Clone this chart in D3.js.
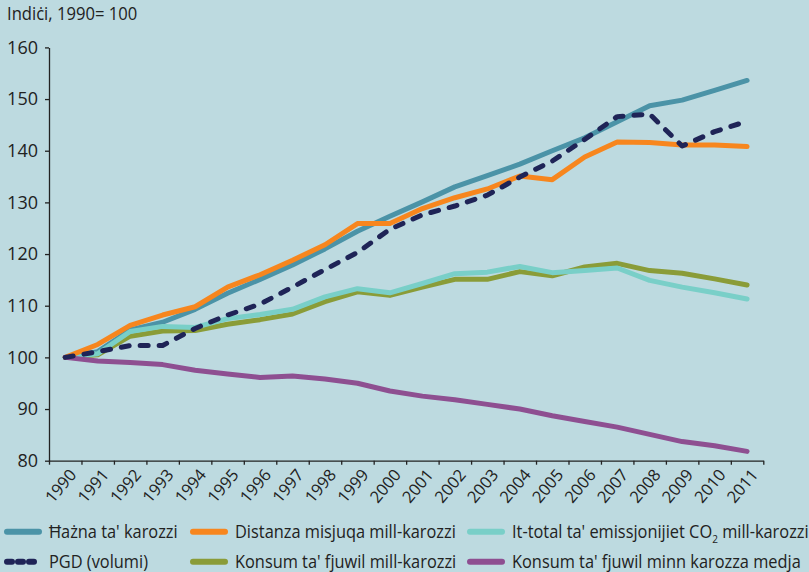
<!DOCTYPE html>
<html>
<head>
<meta charset="utf-8">
<script src="https://cdn.jsdelivr.net/npm/d3@7"></script>
<style>
  html, body { margin: 0; padding: 0; background: #bddae0; }
  svg { display: block; font-family: "Open Sans", sans-serif; }
</style>
</head>
<body>
<script>
'use strict';

// years on the x axis
const years = d3.range(1990, 2012);

// index values, 1990 = 100
const hazna     = [100, 101.1, 105.3, 106.8, 109.3, 112.4, 115.1, 117.9, 121.0, 124.4, 127.3, 130.1, 133.0, 135.2, 137.4, 140.0, 142.5, 145.6, 148.7, 149.8, 151.7, 153.6];
const distanza  = [100, 102.5, 106.2, 108.2, 109.8, 113.6, 116.0, 118.8, 121.8, 125.9, 125.9, 128.8, 130.9, 132.6, 135.1, 134.4, 138.8, 141.7, 141.6, 141.1, 141.1, 140.8];
const co2       = [100, 100.7, 105.0, 106.0, 105.8, 107.5, 108.3, 109.3, 111.7, 113.3, 112.5, 114.3, 116.2, 116.5, 117.6, 116.4, 116.8, 117.3, 114.9, 113.6, 112.5, 111.3];
const pgd       = [100, 101.1, 102.3, 102.3, 105.6, 108.2, 110.3, 113.6, 117.0, 120.3, 124.8, 127.6, 129.3, 131.4, 134.9, 138.0, 142.2, 146.6, 147.1, 140.9, 143.7, 145.7];
const konsum    = [100, 100.5, 104.1, 105.1, 105.2, 106.4, 107.3, 108.4, 110.8, 112.7, 112.0, 113.6, 115.1, 115.1, 116.6, 115.8, 117.5, 118.2, 116.8, 116.3, 115.2, 114.0];
const konsumAvg = [100, 99.3, 99.0, 98.6, 97.5, 96.8, 96.1, 96.4, 95.8, 95.0, 93.5, 92.5, 91.8, 90.9, 90.0, 88.7, 87.6, 86.5, 85.1, 83.7, 82.9, 81.8];

const yTicks = [80, 90, 100, 110, 120, 130, 140, 150, 160];

const series = [
    { name: "Konsum ta' fjuwil mill-karozzi", values: konsum, color: "#8a9c38", dash: null },
    { name: "Ħażna ta' karozzi", values: hazna, color: "#4b93a7", dash: null },
    { name: "It-total ta' emissjonijiet CO2 mill-karozzi", values: co2, color: "#79cfc8", dash: null },
    { name: "Distanza misjuqa mill-karozzi", values: distanza, color: "#f7861e", dash: null },
    { name: "Konsum ta' fjuwil minn karozza medja", values: konsumAvg, color: "#8e4f91", dash: null },
    { name: "PGD (volumi)", values: pgd, color: "#1f2457", dash: "8,11" }
];

const legendRows = [
    ["Ħażna ta' karozzi", "Distanza misjuqa mill-karozzi", "It-total ta' emissjonijiet CO2 mill-karozzi"],
    ["PGD (volumi)", "Konsum ta' fjuwil mill-karozzi", "Konsum ta' fjuwil minn karozza medja"]
];

const W = 809, H = 572;
const svg = d3.select("body").append("svg").attr("width", W).attr("height", H);

const x = d3.scaleLinear().domain([1989.5, 2011.5]).range([49, 763.3]);
const y = d3.scaleLinear().domain([80, 160]).range([460.7, 47.4]);

// title
svg.append("text")
    .attr("transform", "translate(7,20) scale(0.95,1)")
    .attr("font-size", 17.5).attr("fill", "#222")
    .text("Indiċi, 1990= 100");

// y axis
const yAxis = svg.append("g")
    .attr("transform", "translate(49,0)")
    .call(d3.axisLeft(y).tickValues(yTicks).tickSize(4).tickSizeOuter(0).tickPadding(7));
yAxis.selectAll("text").attr("font-size", 18).attr("fill", "#222").attr("font-family", "Open Sans");
yAxis.selectAll("line, path").attr("stroke", "#222").attr("stroke-width", 1.3);

// x axis: ticks on the year boundaries
const xAxis = svg.append("g")
    .attr("transform", "translate(0," + y(80) + ")")
    .call(d3.axisBottom(x).tickValues(d3.range(1989.5, 2012, 1)).tickSize(4).tickSizeOuter(0).tickFormat(""));
xAxis.selectAll("line, path").attr("stroke", "#222").attr("stroke-width", 1.3);

// x labels at the year centres
const xLab = svg.append("g")
    .attr("transform", "translate(0," + y(80) + ")")
    .call(d3.axisBottom(x).tickValues(years).tickSize(0).tickFormat(d3.format("d")));
xLab.select(".domain").remove();
xLab.selectAll("text")
    .attr("y", 0).attr("dy", 0)
    .attr("text-anchor", "end")
    .attr("font-size", 16.5).attr("fill", "#222").attr("font-family", "Open Sans")
    .attr("transform", "translate(11.5,14.5) rotate(-50)");

// lines
const line = d3.line()
    .x((d, i) => x(years[i]))
    .y(d => y(d));

svg.selectAll("path.series")
    .data(series)
    .enter().append("path")
    .attr("class", "series")
    .attr("d", d => line(d.values))
    .attr("fill", "none")
    .attr("stroke", d => d.color)
    .attr("stroke-width", 5)
    .attr("stroke-linejoin", "round")
    .attr("stroke-linecap", "round")
    .attr("stroke-dasharray", d => d.dash);

// legend
const colX = [4, 190, 467];
const rowY = [531.7, 561.7];
legendRows.forEach((row, r) => {
    row.forEach((name, c) => {
        const s = series.find(d => d.name === name);
        const g = svg.append("g").attr("transform", "translate(" + colX[c] + "," + rowY[r] + ")");
        g.append("line")
            .attr("x1", 3).attr("x2", 35).attr("y1", 0).attr("y2", 0)
            .attr("stroke", s.color).attr("stroke-width", 6)
            .attr("stroke-linecap", "round")
            .attr("stroke-dasharray", s.dash ? "5,6" : null);
        const t = g.append("text")
            .attr("transform", "translate(45,6) scale(0.91,1)")
            .attr("font-size", 18).attr("fill", "#222");
        if (name.indexOf("CO2") >= 0) {
            t.append("tspan").text("It-total ta' emissjonijiet CO");
            t.append("tspan").attr("font-size", 11).attr("dy", 5).text("2");
            t.append("tspan").attr("dy", -5).text(" mill-karozzi");
        } else {
            t.text(name);
        }
    });
});
</script>
</body>
</html>
